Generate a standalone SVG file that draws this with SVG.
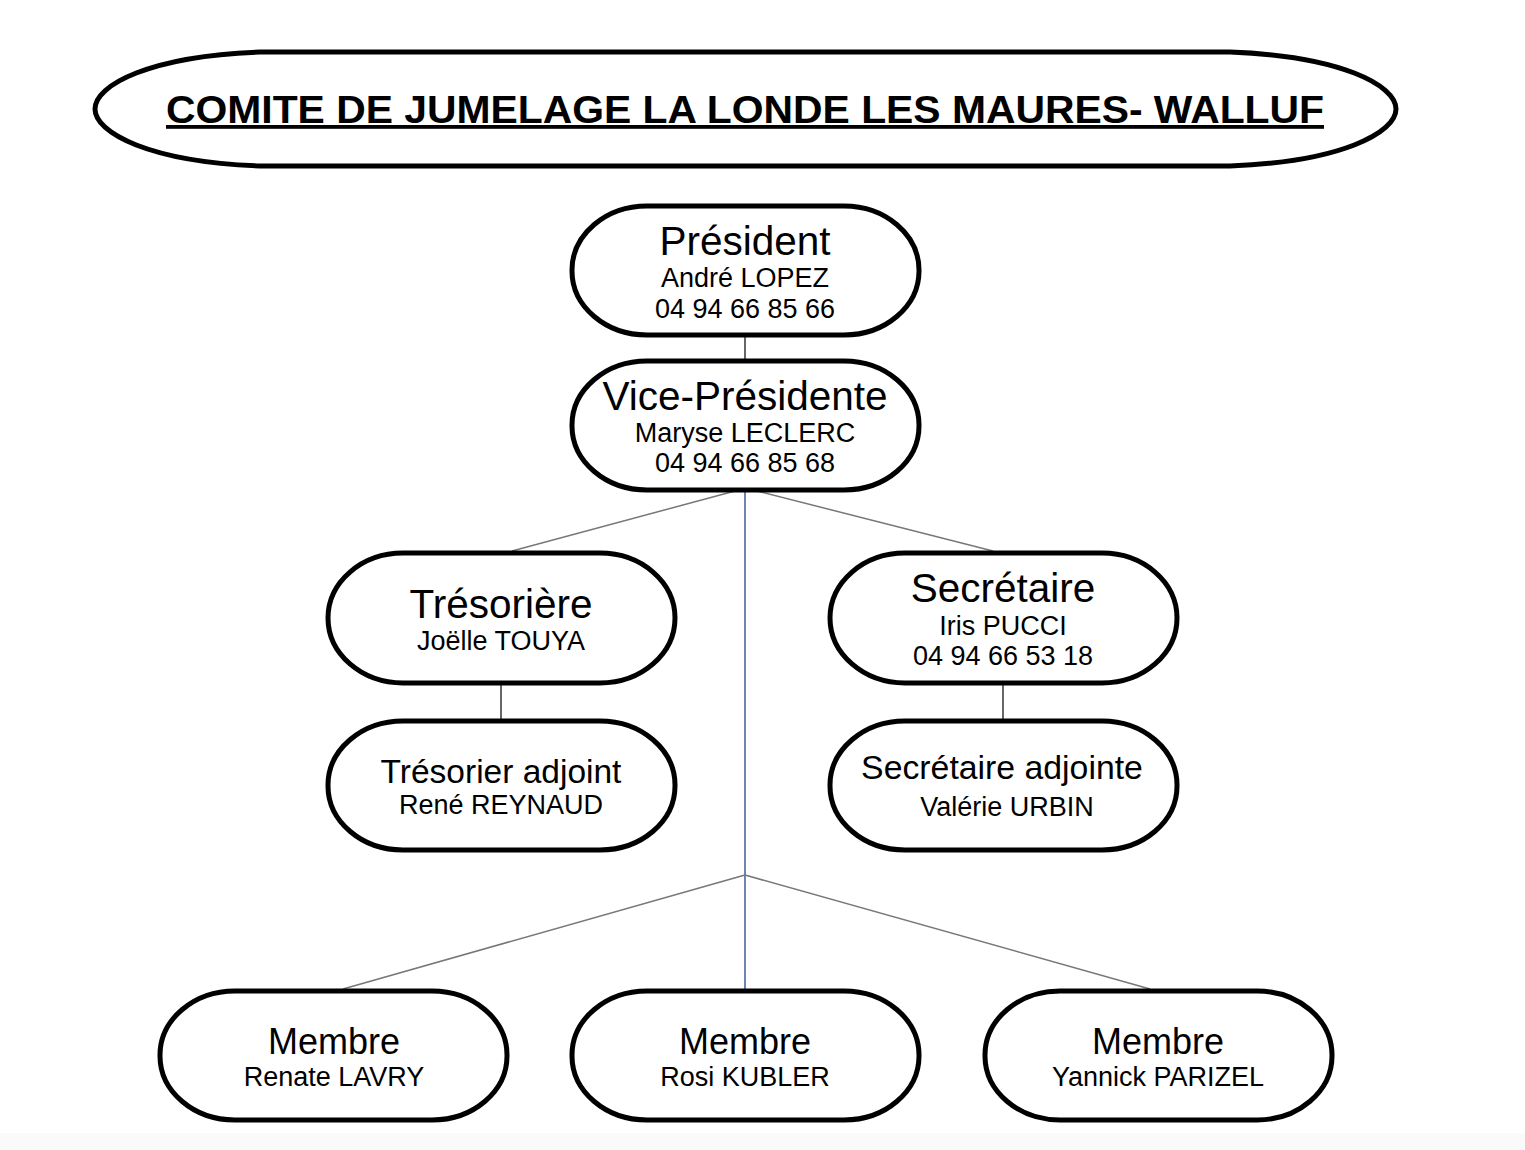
<svg xmlns="http://www.w3.org/2000/svg" width="1525" height="1150" viewBox="0 0 1525 1150">
<style>
.node{fill:#fff;stroke:#000;stroke-width:5}
.t{font-family:"Liberation Sans",Arial,sans-serif;text-anchor:middle;fill:#000}
.h{font-size:40.5px}
.s{font-size:27px}
.ln{stroke:#000;stroke-width:1.2;fill:none}
.gr{stroke:#777;stroke-width:1.5;fill:none}
.bl{stroke:#3a5f96;stroke-width:1.5;fill:none}
</style>
<rect x="0" y="0" width="1525" height="1150" fill="#fff"/>
<rect x="0" y="1133" width="1525" height="17" fill="#fafafa"/>
<g id="connectors">
<line class="ln" x1="745" y1="335" x2="745" y2="362"/>
<line class="gr" x1="735" y1="491" x2="512" y2="551"/>
<line class="gr" x1="757" y1="491" x2="993" y2="551"/>
<line class="bl" x1="745" y1="490" x2="745" y2="990"/>
<line class="ln" x1="501" y1="683" x2="501" y2="721"/>
<line class="ln" x1="1003" y1="683" x2="1003" y2="721"/>
<line class="gr" x1="745" y1="875" x2="343" y2="989"/>
<line class="gr" x1="745" y1="875" x2="1150" y2="989"/>
</g>
<g id="title">
<path class="node" d="M260,52 L1230,52 C1340,56 1396,85 1396,109 C1396,133 1340,162 1230,166 L260,166 C150,162 95,133 95,109 C95,85 150,56 260,52 Z"/>
<text class="t" x="745" y="123" font-size="38" font-weight="bold" text-decoration="underline" textLength="1158" lengthAdjust="spacingAndGlyphs">COMITE DE JUMELAGE LA LONDE LES MAURES- WALLUF</text>
</g>
<g id="president">
<rect class="node" x="572" y="206" width="347" height="129" rx="75" ry="64"/>
<text class="t h" x="745" y="255">Président</text>
<text class="t s" x="745" y="287">André LOPEZ</text>
<text class="t s" x="745" y="318">04 94 66 85 66</text>
</g>
<g id="vice-presidente">
<rect class="node" x="572" y="361" width="347" height="129" rx="75" ry="64"/>
<text class="t h" x="745" y="410">Vice-Présidente</text>
<text class="t s" x="745" y="442">Maryse LECLERC</text>
<text class="t s" x="745" y="472">04 94 66 85 68</text>
</g>
<g id="tresoriere">
<rect class="node" x="328" y="553" width="347" height="130" rx="75" ry="65"/>
<text class="t h" x="501" y="618">Trésorière</text>
<text class="t s" x="501" y="650">Joëlle TOUYA</text>
</g>
<g id="secretaire">
<rect class="node" x="830" y="553" width="347" height="130" rx="75" ry="65"/>
<text class="t h" x="1003" y="602">Secrétaire</text>
<text class="t s" x="1003" y="635">Iris PUCCI</text>
<text class="t s" x="1003" y="665">04 94 66 53 18</text>
</g>
<g id="tresorier-adjoint">
<rect class="node" x="328" y="721" width="347" height="129" rx="75" ry="64"/>
<text class="t" x="501" y="783" font-size="33.5">Trésorier adjoint</text>
<text class="t s" x="501" y="814">René REYNAUD</text>
</g>
<g id="secretaire-adjointe">
<rect class="node" x="830" y="721" width="347" height="129" rx="75" ry="64"/>
<text class="t" x="1002" y="779" font-size="33.8">Secrétaire adjointe</text>
<text class="t s" x="1007" y="816">Valérie URBIN</text>
</g>
<g id="membre-lavry">
<rect class="node" x="160" y="991" width="347" height="129" rx="75" ry="64"/>
<text class="t" x="334" y="1054" font-size="36">Membre</text>
<text class="t s" x="334" y="1086">Renate LAVRY</text>
</g>
<g id="membre-kubler">
<rect class="node" x="572" y="991" width="347" height="129" rx="75" ry="64"/>
<text class="t" x="745" y="1054" font-size="36">Membre</text>
<text class="t s" x="745" y="1086">Rosi KUBLER</text>
</g>
<g id="membre-parizel">
<rect class="node" x="985" y="991" width="347" height="129" rx="75" ry="64"/>
<text class="t" x="1158" y="1054" font-size="36">Membre</text>
<text class="t s" x="1158" y="1086">Yannick PARIZEL</text>
</g>
</svg>
